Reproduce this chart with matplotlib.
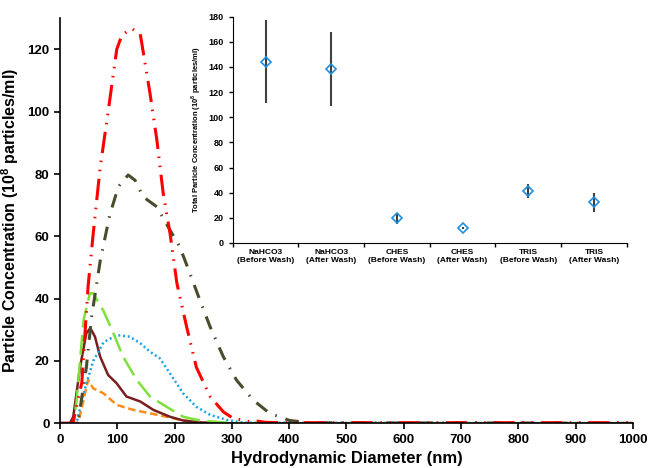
import numpy as np
import matplotlib
matplotlib.use("Agg")
import matplotlib.pyplot as plt

plt.rcParams['font.family'] = ['Liberation Sans', 'DejaVu Sans']
plt.rcParams['font.weight'] = 'bold'
plt.rcParams['mathtext.fontset'] = 'custom'
plt.rcParams['mathtext.rm'] = 'Liberation Sans:bold'
plt.rcParams['mathtext.bf'] = 'Liberation Sans:bold'

# size distributions (nm, 10^8 particles/ml)
red_x = [0, 18, 23, 38, 49, 58, 70, 84, 99, 108, 125, 140, 157, 169, 180, 192, 204, 221, 238, 262, 285, 302, 332, 345, 360, 400, 1000]
red_y = [0, 0, 0.5, 13, 44, 61, 82, 100, 120, 124.6, 126.7, 125, 106, 91, 74, 61, 45, 31, 18, 8.6, 3.7, 1.6, 0.5, 0.7, 0.3, 0.2, 0.2]

olive_x = [0, 27, 32, 46, 55, 70, 87, 102, 119, 131, 145, 169, 192, 209, 227, 244, 262, 285, 308, 337, 366, 401, 436, 500, 800, 1000]
olive_y = [0, 0, 1, 18, 34, 52, 67, 76, 79.7, 78, 72.7, 69.5, 62, 56.7, 48, 39.6, 31, 21.4, 13.9, 7.5, 3.2, 0.9, 0.2, 0.1, 0.1, 0]

green_x = [0, 24, 29, 41, 52, 58, 76, 93, 110, 134, 157, 186, 215, 244, 285, 320, 1000]
green_y = [0, 0, 7.5, 33, 41.7, 41.7, 36, 29, 21.4, 13.9, 8.6, 5.3, 2.1, 0.9, 0.3, 0, 0]

blue_x = [0, 28, 29, 41, 58, 76, 99, 122, 140, 157, 174, 192, 215, 238, 262, 291, 320, 1000]
blue_y = [0, 0, 0.2, 9.6, 20, 26, 28.3, 27.8, 25.7, 23, 20.9, 16, 9.6, 5.3, 2.7, 1.1, 0.2, 0]

maroon_x = [0, 17, 23, 35, 46, 53, 61, 70, 84, 99, 116, 140, 163, 192, 215, 244, 280, 1000]
maroon_y = [0, 0, 2, 18, 29, 30.5, 27.8, 21.4, 15.5, 12.8, 8.6, 7, 4.3, 2.1, 0.9, 0.3, 0, 0]

orange_x = [0, 28, 32, 41, 49, 58, 76, 99, 128, 157, 186, 215, 244, 280, 1000]
orange_y = [0, 0, 0.5, 7.5, 13.9, 11.2, 9.6, 5.9, 4.3, 3.2, 2.1, 0.9, 0.3, 0, 0]

# totals (inset)
buffers = ['NaHCO3\n(Before Wash)', 'NaHCO3\n(After Wash)', 'CHES\n(Before Wash)',
           'CHES\n(After Wash)', 'TRIS\n(Before Wash)', 'TRIS\n(After Wash)']
totals = [144, 138.5, 19.5, 12, 41, 32.5]
err_lo = [111, 109, 15.5, 11, 36, 24.5]
err_hi = [177, 168, 23.5, 13, 47, 40]

fig = plt.figure(figsize=(6.49, 4.68), dpi=100)
ax = fig.add_axes([0.0925, 0.0955, 0.8825, 0.8655])

ax.plot(orange_x, orange_y, color='#ff8c1a', lw=1.8, dashes=(3, 1.5))
ax.plot(maroon_x, maroon_y, color='#7a1f1f', lw=1.8)
ax.plot(blue_x, blue_y, color='#1aa3e8', lw=1.8, dashes=(0.8, 1.1))
ax.plot(green_x, green_y, color='#7ee03a', lw=1.8, dashes=(8, 3))
ax.plot(olive_x, olive_y, color='#4b4b2d', lw=2.2, dashes=(4.5, 3, 0.5, 3))
ax.plot(red_x, red_y, color='#ff0000', lw=2.2, dashes=(7, 2.5, 0.5, 2.5, 0.5, 2.5))

ax.set_xlim(0, 1000)
ax.set_ylim(0, 130)
ax.set_xticks(np.arange(0, 1001, 100))
ax.set_yticks(np.arange(0, 121, 20))
ax.spines['top'].set_visible(False)
ax.spines['right'].set_visible(False)
ax.spines['left'].set_linewidth(1.2)
ax.spines['bottom'].set_linewidth(1.2)
ax.tick_params(labelsize=9.5, width=1.2, length=4, direction='out')
ax.set_xlabel('Hydrodynamic Diameter (nm)', fontsize=12, fontweight='bold')
ax.set_ylabel('Particle Concentration (10$^{8}$ particles/ml)', fontsize=11.5, fontweight='bold')
ax.yaxis.set_label_coords(-0.068, 0.5)

# inset
ins = fig.add_axes([0.3585, 0.4808, 0.6072, 0.4835])
pos = np.arange(len(buffers)) + 0.5
yerr = [np.array(totals) - np.array(err_lo), np.array(err_hi) - np.array(totals)]
ins.errorbar(pos, totals, yerr=yerr, fmt='D', mfc='none', mec='#1e90e0', mew=1.2, ms=5,
             ecolor='#404040', elinewidth=1.5, capsize=0)
ins.set_xlim(0, len(buffers))
ins.set_ylim(0, 180)
ins.set_yticks(np.arange(0, 181, 20))
ins.set_xticks(np.arange(0, len(buffers) + 1))
ins.set_xticklabels([])
ins.set_xticks(pos, minor=True)
ins.set_xticklabels(buffers, minor=True, fontsize=6)
ins.tick_params(axis='x', which='minor', length=0, pad=4)
ins.tick_params(axis='x', which='major', length=3, width=1)
ins.tick_params(axis='y', labelsize=6.5, length=3, width=1)
ins.spines['top'].set_visible(False)
ins.spines['right'].set_visible(False)
ins.set_ylabel('Total Particle Concentration (10$^{8}$ particles/ml)', fontsize=5.5, fontweight='bold')
ins.patch.set_alpha(0)

fig.savefig('out.png', dpi=100)
